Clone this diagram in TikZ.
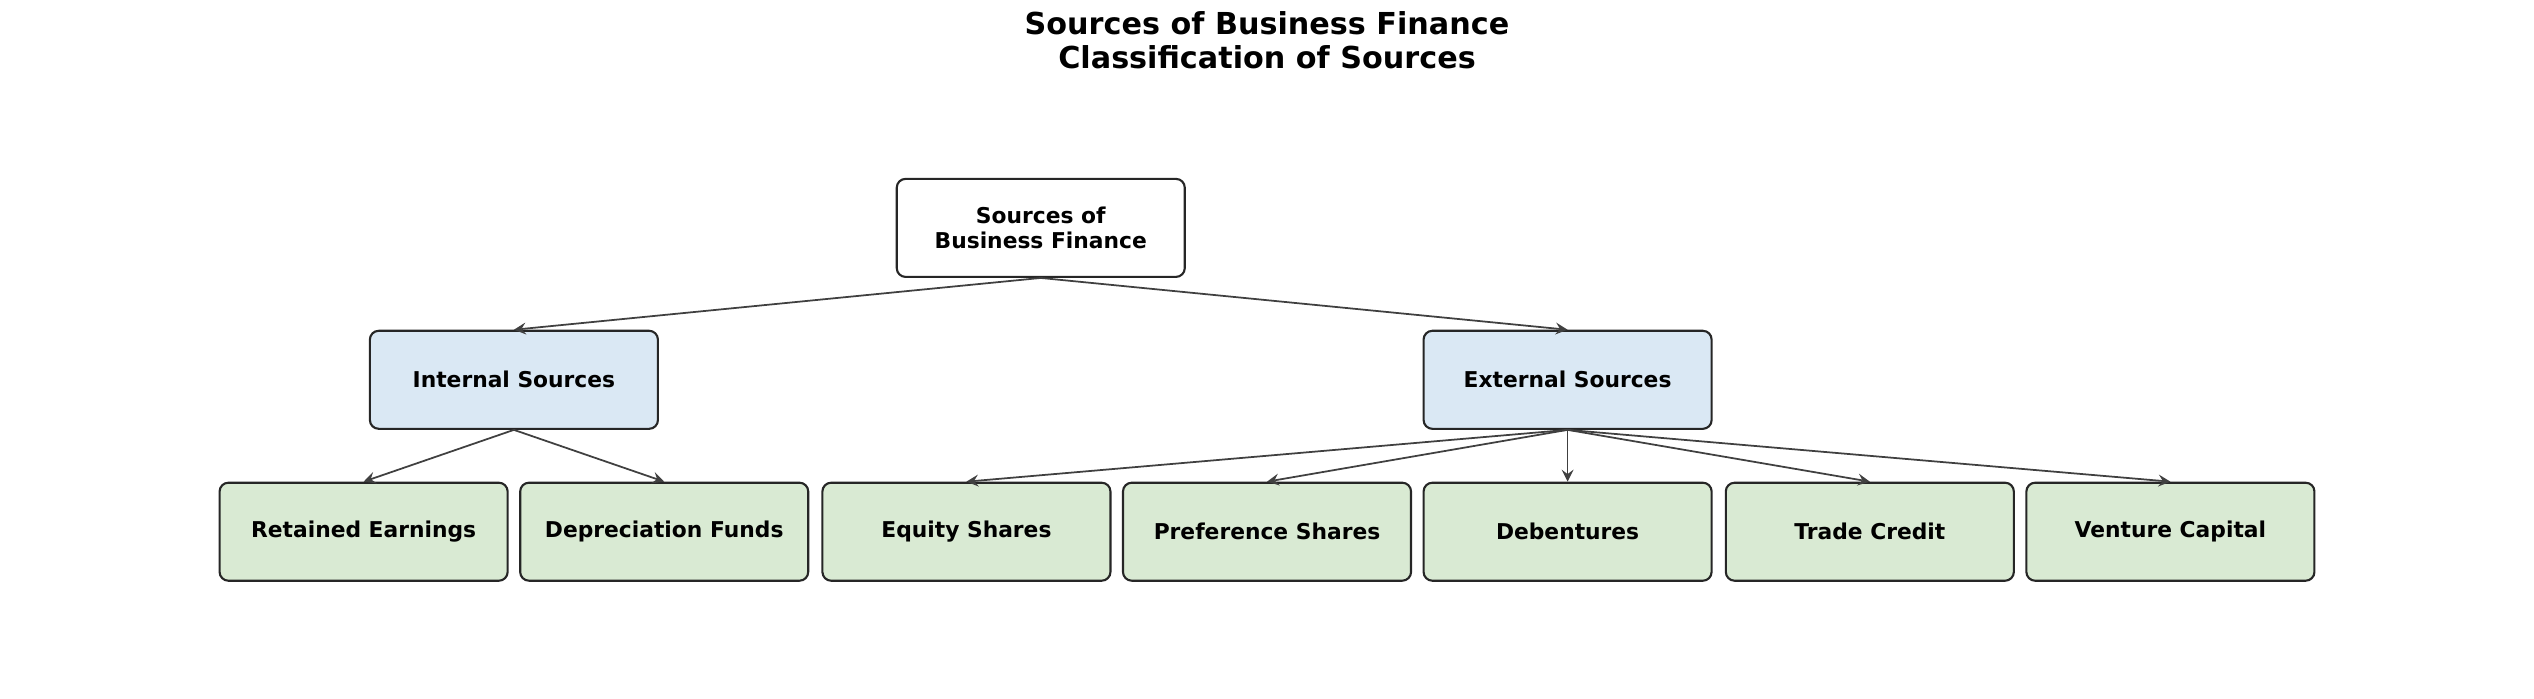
\documentclass[tikz,border=0pt]{standalone}
\usepackage{fontspec}
\setmainfont{DejaVu Sans}
\usetikzlibrary{arrows,positioning}
\definecolor{rootfill}{HTML}{FFFFFF}
\definecolor{midfill}{HTML}{DAE8F4}
\definecolor{leaffill}{HTML}{D9EAD3}
\definecolor{edgegray}{HTML}{404040}

\begin{document}
\begin{tikzpicture}[>=stealth,x=0.01616cm,y=-0.01616cm]
    \tikzstyle{box} = [shape=rectangle,draw=black!85,line width=0.6pt,rounded corners=2.5pt,minimum width=2.88cm,minimum height=0.98cm,align=center,font=\fontsize{6.2}{7}\selectfont\bfseries,inner sep=0]
    \tikzstyle{link} = [->,edgegray,line width=0.5pt]
    \useasboundingbox (0,0) rectangle (1568,432);
    \node[font=\fontsize{8.6}{9.6}\selectfont\bfseries,align=center] (title) at (784,25) {Sources of Business Finance\\Classification of Sources};

    \node[box,fill=rootfill] (root) at (644,141) {Sources of\\Business Finance};
    \node[box,fill=midfill] (internal) at (318,235) {Internal Sources};
    \node[box,fill=midfill] (external) at (970,235) {External Sources};

    \node[box,fill=leaffill] (retained) at (225,329) {Retained Earnings};
    \node[box,fill=leaffill] (depreciation) at (411,329) {Depreciation Funds};
    \node[box,fill=leaffill] (equity) at (598,329) {Equity Shares};
    \node[box,fill=leaffill] (preference) at (784,329) {Preference Shares};
    \node[box,fill=leaffill] (debentures) at (970,329) {Debentures};
    \node[box,fill=leaffill] (trade) at (1157,329) {Trade Credit};
    \node[box,fill=leaffill] (venture) at (1343,329) {Venture Capital};

    \draw[link] (root.south) -- (internal.north);
    \draw[link] (root.south) -- (external.north);
    \foreach \leaf in {retained,depreciation}
    {
    	\draw[link] (internal.south) -- (\leaf.north);
    }
    \foreach \leaf in {equity,preference,debentures,trade,venture}
    {
    	\draw[link] (external.south) -- (\leaf.north);
    }
\end{tikzpicture}
\end{document}
